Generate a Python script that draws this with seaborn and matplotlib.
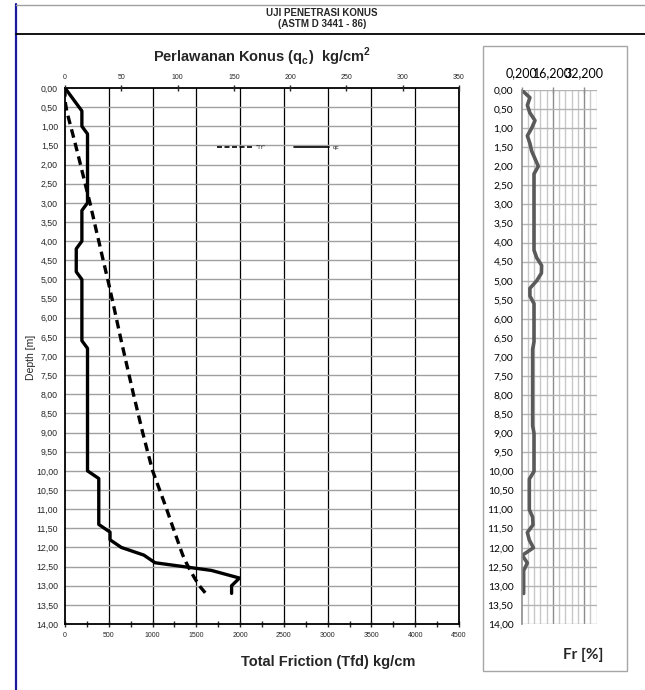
import numpy as np
import pandas as pd
import matplotlib
matplotlib.use("Agg")
import matplotlib.pyplot as plt
import seaborn as sns
from matplotlib.lines import Line2D
from matplotlib.patches import Rectangle
from matplotlib.ticker import MultipleLocator, FixedLocator, FuncFormatter

# Data
depth = [0.0, 0.2, 0.4, 0.6, 0.8, 1.0, 1.2, 1.4, 1.6, 1.8, 2.0, 2.2, 2.4, 2.6, 2.8,
         3.0, 3.2, 3.4, 3.6, 3.8, 4.0, 4.2, 4.4, 4.6, 4.8, 5.0, 5.2, 5.4, 5.6, 5.8,
         6.0, 6.2, 6.4, 6.6, 6.8, 7.0, 7.2, 7.4, 7.6, 7.8, 8.0, 8.2, 8.4, 8.6, 8.8,
         9.0, 9.2, 9.4, 9.6, 9.8, 10.0, 10.2, 10.4, 10.6, 10.8, 11.0, 11.2, 11.4,
         11.6, 11.8, 12.0, 12.2, 12.4, 12.6, 12.8, 13.0, 13.2]

# cone resistance qc [kg/cm2]
qc = [0, 5, 10, 15, 15, 15, 20, 20, 20, 20, 20, 20, 20, 20, 20,
      20, 15, 15, 15, 15, 15, 10, 10, 10, 10, 15, 15, 15, 15, 15,
      15, 15, 15, 15, 20, 20, 20, 20, 20, 20, 20, 20, 20, 20, 20,
      20, 20, 20, 20, 20, 20, 30, 30, 30, 30, 30, 30, 30,
      40, 40, 50, 70, 80, 130, 155, 148, 148]

# total friction Tf [kg/cm]
tf = [0, 0, 5, 20, 42, 65, 88, 111, 133, 155, 177, 198, 220, 241, 263,
      285, 305, 325, 345, 365, 386, 406, 426, 447, 467, 488, 508, 527, 547, 566,
      585, 604, 623, 642, 662, 682, 702, 722, 742, 762, 782, 803, 824, 845, 866,
      887, 910, 932, 955, 978, 1001, 1033, 1065, 1097, 1129, 1161, 1191, 1221,
      1252, 1283, 1313, 1345, 1385, 1430, 1480, 1534, 1607]

# friction ratio Fr [%]
fr = [0.2, 4.4, 3.1, 4.4, 7.0, 5.3, 3.1, 4.4, 5.3, 7.0, 8.7, 6.5, 6.5, 6.5, 6.5,
      6.5, 6.5, 6.5, 6.5, 6.5, 6.5, 6.5, 7.9, 10.4, 10.3, 7.9, 4.4, 4.4, 6.5, 6.5,
      6.5, 6.5, 6.5, 6.5, 5.8, 5.8, 5.8, 5.8, 5.8, 5.8, 5.8, 5.8, 5.8, 5.8, 5.8,
      6.5, 6.5, 6.5, 6.5, 6.5, 6.5, 4.1, 4.1, 4.1, 4.1, 4.1, 5.8, 6.0,
      3.1, 4.1, 6.2, 0.5, 3.1, 1.2, 1.2, 1.2, 1.2]

fr_ticks = [0.2, 16.2, 32.2]
fr_ticklabels = ["0,200", "16,200", "32,200"]

df = pd.DataFrame({"depth": depth, "qc": qc, "tf": tf, "fr": fr})

sns.set_style("white")
plt.rcParams["font.family"] = ["Liberation Sans", "DejaVu Sans"]
plt.rcParams["mathtext.fontset"] = "custom"
plt.rcParams["mathtext.rm"] = "Liberation Sans:bold"
plt.rcParams["mathtext.bf"] = "Liberation Sans:bold"

W, H = 645, 690
fig = plt.figure(figsize=(W / 100, H / 100), dpi=100)


def fx(x):
    return x / W


def fy(y):
    return 1 - y / H


comma = FuncFormatter(lambda v, p: f"{v:.2f}".replace(".", ","))

# ---- main panel: Tf (bottom axis) and qc (top axis) ----
ax = fig.add_axes([fx(65), fy(624), fx(459) - fx(65), fy(88) - fy(624)])
sns.lineplot(data=df, x="tf", y="depth", orient="y", sort=False, estimator=None,
             ax=ax, color="black", lw=2.4, linestyle=(0, (2.6, 1.6)))
ax.set_xlim(0, 4500)
ax.set_ylim(14, 0)
ax.xaxis.set_major_locator(MultipleLocator(500))
ax.xaxis.set_minor_locator(MultipleLocator(250))
ax.yaxis.set_major_locator(MultipleLocator(0.5))
ax.yaxis.set_major_formatter(comma)
ax.grid(False)
for v in np.arange(500, 4500, 500):
    ax.axvline(v, color="black", lw=0.9, zorder=0)
for v in np.arange(0.5, 14, 0.5):
    ax.axhline(v, color="#a0a0a0", lw=1.0, zorder=0)
ax.tick_params(axis="x", which="both", direction="inout", length=4, width=1,
               labelsize=5, pad=4)
ax.tick_params(axis="y", direction="out", length=3, width=1, labelsize=6.3, pad=2)
for s in ax.spines.values():
    s.set_color("black")
    s.set_linewidth(1.3)
ax.set_xlabel("")
ax.set_ylabel("")

ax2 = ax.twiny()
sns.lineplot(data=df, x="qc", y="depth", orient="y", sort=False, estimator=None,
             ax=ax2, color="black", lw=2.4)
ax2.set_xlim(0, 350)
ax2.set_ylim(14, 0)
ax2.xaxis.set_major_locator(MultipleLocator(50))
ax2.tick_params(axis="x", direction="inout", length=4, width=1, labelsize=5, pad=3)
ax2.set_xlabel("")
ax2.set_ylabel("")
for s in ax2.spines.values():
    s.set_visible(False)

handles = [Line2D([], [], color="black", lw=1.2, linestyle=(0, (3, 1.5))),
           Line2D([], [], color="black", lw=1.2)]
fig.legend(handles, ['"Tf"', "qc"], loc="center left", ncol=2, frameon=False,
           bbox_to_anchor=(fx(211), fy(147)), fontsize=4.5, handlelength=5.6,
           handletextpad=0.6, columnspacing=4.6)

fig.text(fx(262), fy(57), r"Perlawanan Konus (q$_{\mathrm{c}}$)  kg/cm$^{\mathrm{2}}$",
         ha="center", va="center", fontsize=10.5, fontweight="bold")
fig.text(fx(328), fy(662), "Total Friction (Tfd) kg/cm", ha="center", va="center",
         fontsize=10.5, fontweight="bold")
fig.text(fx(31), fy(357), "Depth [m]", ha="center", va="center", rotation=90,
         fontsize=7.5)

# ---- right panel: friction ratio ----
axr = fig.add_axes([fx(521.7), fy(624), fx(596.7) - fx(521.7), fy(90) - fy(624)])
sns.lineplot(data=df, x="fr", y="depth", orient="y", sort=False, estimator=None,
             ax=axr, color="#5a5a5a", lw=2.6)
axr.set_xlim(0.2, 38.6)
axr.set_ylim(14, 0)
axr.xaxis.set_major_locator(FixedLocator(fr_ticks))
axr.xaxis.set_minor_locator(MultipleLocator(3.2))
axr.xaxis.set_ticks_position("top")
axr.set_xticklabels(fr_ticklabels)
axr.yaxis.set_major_locator(MultipleLocator(0.5))
axr.yaxis.set_major_formatter(comma)
axr.grid(False)
for v in np.arange(0.2 + 3.2, 38.6, 3.2):
    major = any(abs(v - t) < 1e-6 for t in fr_ticks)
    axr.axvline(v, color="#8c8c8c" if major else "#c8c8c8", lw=1.0, zorder=0)
axr.axvline(38.6, color="#c8c8c8", lw=1.0, zorder=0)
for v in np.arange(0, 14.01, 0.5):
    axr.axhline(v, color="#b4b4b4", lw=1.0, zorder=0)
axr.tick_params(axis="x", which="major", direction="inout", length=4, width=1,
                colors="#8c8c8c", labelcolor="black", labelsize=9, pad=6)
axr.tick_params(axis="x", which="minor", length=0)
axr.tick_params(axis="y", direction="out", length=4, width=1, colors="#8c8c8c",
                labelcolor="black", labelsize=7.3, pad=2)
for lab in axr.get_xticklabels() + axr.get_yticklabels():
    lab.set_family(["Lato", "DejaVu Sans"])
for k, s in axr.spines.items():
    s.set_visible(k == "left")
    s.set_color("#8c8c8c")
    s.set_linewidth(1.2)
axr.set_xlabel("")
axr.set_ylabel("")
fig.text(fx(583), fy(655), "Fr [%]", ha="center", va="center", fontsize=11,
         fontweight="bold", family=["Lato", "DejaVu Sans"])

fig.patches.append(Rectangle((fx(483), fy(671)), fx(627) - fx(483), fy(46) - fy(671),
                             transform=fig.transFigure, fill=False,
                             edgecolor="#a6a6a6", lw=1.0))

# ---- sheet frame and header ----
fig.add_artist(Line2D([fx(15.5), fx(15.5)], [fy(4), fy(690)], color="#1a1aa0", lw=1.6,
                      transform=fig.transFigure))
fig.add_artist(Line2D([fx(16), fx(645)], [fy(5), fy(5)], color="#a0a0a0", lw=1.0,
                      transform=fig.transFigure))
fig.add_artist(Line2D([fx(16), fx(645)], [fy(34), fy(34)], color="black", lw=1.3,
                      transform=fig.transFigure))
fig.text(fx(322), fy(13), "UJI PENETRASI KONUS", ha="center", va="center",
         fontsize=7, fontweight="bold")
fig.text(fx(322), fy(24), "(ASTM D 3441 - 86)", ha="center", va="center",
         fontsize=7, fontweight="bold")

plt.savefig("out.png", dpi=100)
